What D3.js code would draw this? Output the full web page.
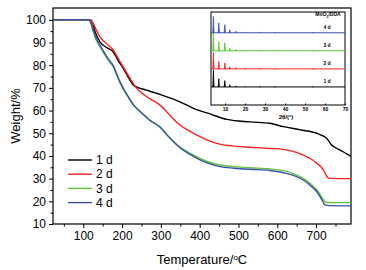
<!DOCTYPE html>
<html>
<head>
<meta charset="utf-8">
<script src="https://cdn.jsdelivr.net/npm/d3@7"></script>
<style>
  body { margin: 0; background: #fff; }
  text { font-family: "Liberation Sans", Arial, sans-serif; }
</style>
</head>
<body>
<div id="chart"></div>
<script>
// TGA curves: [temperature °C, weight %]
const tga1d = [[22,100],[115,100],[122,99.5],[130,95],[143,90.3],[160,87.8],[177,85.9],[190,82],[203,78.6],[215,75],[229,71.2],[240,70.2],[263,69],[298,67.1],[340,64.5],[384,61],[430,58.3],[470,56.1],[530,55],[581,54.4],[616,52.9],[660,51.5],[702,50],[718,48.8],[727,47.8],[735,46],[740,44.8],[750,43.6],[762,42.6],[775,41.3],[790,39.8]];
const tga2d = [[22,100],[117,100],[125,98.5],[135,95],[143,92.5],[160,89.5],[177,86.7],[190,83],[203,79.3],[218,75],[233,70.8],[260,66.5],[298,62.4],[320,58.5],[349,53.6],[375,50.8],[401,48.5],[425,46.6],[452,45.2],[490,44.3],[530,43.8],[581,43.3],[616,42.9],[645,41.8],[667,40.4],[690,38.3],[702,36.7],[712,35.3],[719,33.8],[725,31.8],[729,30.6],[735,30.1],[790,30]];
const tga3d = [[22,100],[113,100],[118,99],[125,95],[135,90.5],[143,88.1],[156,84.4],[165,82],[177,79.3],[185,76],[195,72],[210,67.5],[229,62.4],[250,59],[272,55.8],[298,52.9],[320,48.7],[349,44],[375,41.2],[401,38.9],[425,37.2],[452,36],[490,35.3],[530,34.8],[581,34.3],[616,33.5],[645,32],[667,30.1],[685,27.8],[702,25],[714,22],[720,20.5],[723,19.8],[730,19.5],[790,19.4]];
const tga4d = [[22,100],[114,100],[119,99],[126,95.5],[136,91],[144,88.6],[157,84.8],[166,82.4],[178,79.6],[186,76.3],[196,72.2],[211,67.6],[230,62.4],[250,59],[272,55.6],[298,52.6],[320,48.4],[349,43.6],[375,40.7],[401,38.3],[425,36.6],[452,35.3],[490,34.6],[530,34.1],[581,33.6],[616,32.6],[645,31.2],[667,29.4],[685,27],[702,24.2],[714,21],[721,18.8],[725,18.3],[735,18.1],[790,18]];

const seriesNames = ["1 d", "2 d", "3 d", "4 d"];
const seriesColors = ["#000000", "#ff2020", "#5cc43a", "#3a50a8"];

const xTicks = [100, 200, 300, 400, 500, 600, 700];
const yTicks = [10, 20, 30, 40, 50, 60, 70, 80, 90, 100];

// inset XRD: peak positions (2θ) and relative heights per sample
const xrdPeaks = [4.2, 6.9, 9.9, 12.4, 15.4, 20.2, 27.6, 35.0, 54.0];
const xrd1d = [0.95, 0.45, 0.35, 0.12, 0.05, 0.03, 0.02, 0.02, 0.03];
const xrd2d = [0.9, 0.4, 0.33, 0.12, 0.07, 0.05, 0.05, 0.02, 0.02];
const xrd3d = [1.0, 0.5, 0.45, 0.15, 0.08, 0.03, 0.02, 0.04, 0.02];
const xrd4d = [0.9, 0.55, 0.45, 0.17, 0.08, 0.03, 0.02, 0.02, 0.02];
const xrdOffsets = [1, 2, 3, 4];
const insetTicks = [10, 20, 30, 40, 50, 60, 70];

const W = 366, H = 270;
const margin = { top: 8, right: 15, bottom: 46, left: 53 };
const width = W - margin.left - margin.right;
const height = H - margin.top - margin.bottom;

const svg = d3.select("#chart").append("svg")
    .attr("width", W)
    .attr("height", H);

const g = svg.append("g")
    .attr("transform", `translate(${margin.left},${margin.top})`);

const x = d3.scaleLinear().domain([22, 790]).range([0, width]);
const y = d3.scaleLinear().domain([10, 105.2]).range([height, 0]);

// frame
g.append("rect")
    .attr("width", width).attr("height", height)
    .attr("fill", "none").attr("stroke", "#000").attr("stroke-width", 1.2);

// x axis (major + minor)
g.append("g")
    .attr("transform", `translate(0,${height})`)
    .call(d3.axisBottom(x).tickValues(xTicks).tickSize(4).tickPadding(3).tickFormat(d3.format("d")));
g.append("g")
    .attr("transform", `translate(0,${height})`)
    .call(d3.axisBottom(x).tickValues(d3.range(50, 790, 100)).tickSize(2.5).tickFormat(""));

g.append("g")
    .call(d3.axisLeft(y).tickValues(yTicks).tickSize(4).tickPadding(3).tickFormat(d3.format("d")));
g.append("g")
    .call(d3.axisLeft(y).tickValues(d3.range(15, 105, 10)).tickSize(2.5).tickFormat(""));

g.selectAll(".domain").attr("stroke", "none");
g.selectAll(".tick line").attr("stroke", "#000").attr("stroke-width", 1);
g.selectAll(".tick text").attr("fill", "#000").style("font-size", "12px");

// curves
const line = d3.line().x(d => x(d[0])).y(d => y(d[1])).curve(d3.curveMonotoneX);
[tga1d, tga2d, tga3d, tga4d].forEach((data, i) => {
    g.append("path")
        .datum(data)
        .attr("fill", "none")
        .attr("stroke", seriesColors[i])
        .attr("stroke-width", 1.4)
        .attr("stroke-linejoin", "round")
        .attr("d", line);
});

// legend
const legend = g.append("g").attr("transform", "translate(15,152)");
seriesNames.forEach((name, i) => {
    const row = legend.append("g").attr("transform", `translate(0,${i * 14.2})`);
    row.append("line").attr("x1", 0).attr("x2", 24).attr("y1", 0).attr("y2", 0)
        .attr("stroke", seriesColors[i]).attr("stroke-width", 1.4);
    row.append("text").attr("x", 28).attr("y", 4.2).style("font-size", "12px").text(name);
});

// axis titles
const xTitle = svg.append("text")
    .attr("x", margin.left + width / 2).attr("y", 264)
    .attr("text-anchor", "middle").style("font-size", "13px");
xTitle.append("tspan").text("Temperature/");
xTitle.append("tspan").attr("baseline-shift", "super").style("font-size", "8px").text("o");
xTitle.append("tspan").text("C");

svg.append("text")
    .attr("transform", `translate(20,${margin.top + height / 2}) rotate(-90)`)
    .attr("text-anchor", "middle").style("font-size", "13px")
    .text("Weight/%");

// inset
const inset = { x0: 211, x1: 345, y0: 12, y1: 105 };
const ix = d3.scaleLinear().domain([3, 70]).range([inset.x0, inset.x1]);
const iy = d3.scaleLinear().domain([0, 5.15]).range([inset.y1, inset.y0]);

svg.append("rect")
    .attr("x", inset.x0).attr("y", inset.y0)
    .attr("width", inset.x1 - inset.x0).attr("height", inset.y1 - inset.y0)
    .attr("fill", "#fff").attr("stroke", "#000").attr("stroke-width", 1);

const insetAxis = svg.append("g")
    .attr("transform", `translate(0,${inset.y1})`)
    .call(d3.axisBottom(ix).tickValues(insetTicks).tickSize(-1.5).tickPadding(2).tickFormat(d3.format("d")));
insetAxis.select(".domain").attr("stroke", "none");
insetAxis.selectAll(".tick text").style("font-size", "5px").style("font-weight", "bold").attr("fill", "#000");

[xrd1d, xrd2d, xrd3d, xrd4d].forEach((heights, i) => {
    const base = xrdOffsets[i];
    const col = seriesColors[i];
    svg.append("line")
        .attr("x1", ix(3)).attr("x2", ix(70))
        .attr("y1", iy(base)).attr("y2", iy(base))
        .attr("stroke", col).attr("stroke-width", 1);
    xrdPeaks.forEach((p, k) => {
        svg.append("path")
            .datum([[p - 0.3, base], [p, base + heights[k]], [p + 0.3, base]])
            .attr("fill", col).attr("stroke", col).attr("stroke-width", 0.8)
            .attr("d", d3.line().x(d => ix(d[0])).y(d => iy(d[1])));
    });
    svg.append("text")
        .attr("x", 327).attr("y", iy(base) - 3.5)
        .attr("text-anchor", "middle")
        .style("font-size", "5px").style("font-weight", "bold")
        .text(seriesNames[i]);
});

const moText = svg.append("text")
    .attr("x", 328).attr("y", 16)
    .attr("text-anchor", "middle")
    .style("font-size", "5px").style("font-weight", "bold");
moText.append("tspan").text("MoO");
moText.append("tspan").attr("baseline-shift", "sub").style("font-size", "3.5px").text("3");
moText.append("tspan").text("/DDA");

svg.append("text")
    .attr("x", 286).attr("y", 118.5)
    .attr("text-anchor", "middle")
    .style("font-size", "6px").style("font-weight", "bold")
    .text("2θ/(°)");
</script>
</body>
</html>
